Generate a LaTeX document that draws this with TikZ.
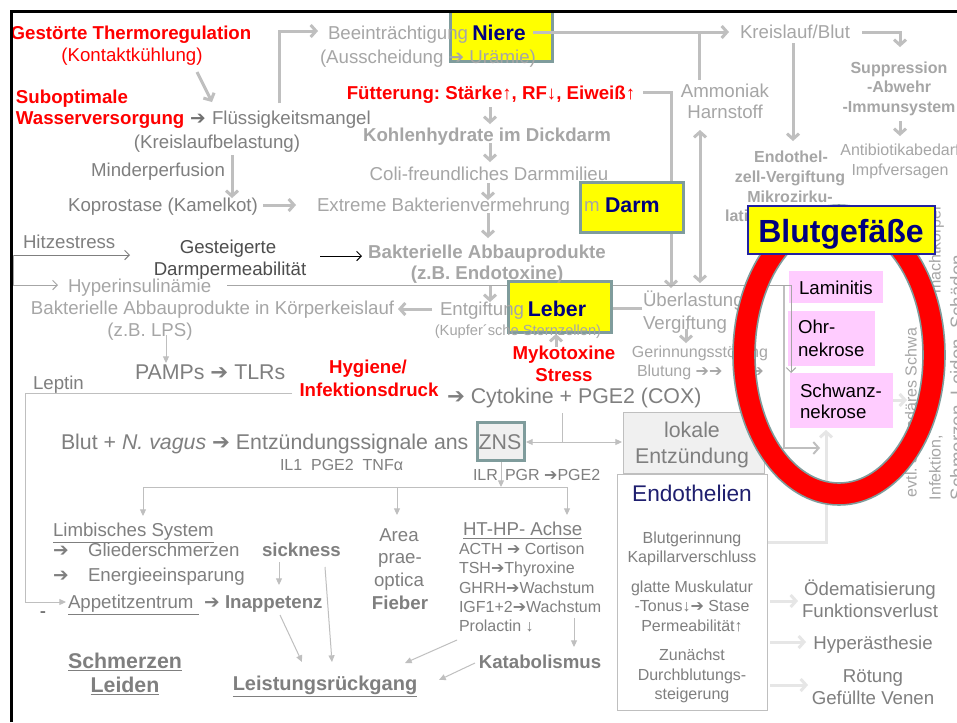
\documentclass[tikz,border=0pt]{standalone}
\usepackage{fontspec}
\setmainfont{Liberation Sans}
\newfontfamily\symfont{DejaVu Sans}
\usetikzlibrary{arrows.meta}
\newcommand{\thickarr}{{\symfont ➔}}
\definecolor{lgt}{HTML}{A6A6A6}
\definecolor{mgt}{HTML}{7F7F7F}
\definecolor{dgt}{HTML}{4D4D4D}
\definecolor{lnc}{HTML}{BFBFBF}
\definecolor{vlc}{HTML}{E6E6E6}
\definecolor{navyc}{HTML}{00007F}
\definecolor{endoc}{HTML}{1F1F6F}
\definecolor{boxb}{HTML}{7F9C9C}
\definecolor{pinkc}{HTML}{FFCCFF}
\definecolor{redc}{HTML}{FF0000}
\definecolor{yelc}{HTML}{FFFF00}
\definecolor{lokf}{HTML}{F0F0F0}
\definecolor{bgb}{HTML}{2222A0}
\frenchspacing
\begin{document}
\begin{tikzpicture}[x=0.75pt,y=-0.75pt,
  every node/.style={inner sep=0pt,outer sep=0pt},
  f11/.style={text height=10.1pt,text depth=2.2pt,font=\fontsize{11}{13}\selectfont},
  f12/.style={text height=11pt,text depth=2.4pt,font=\fontsize{12}{14}\selectfont},
  f12b/.style={text height=11pt,text depth=2.4pt,font=\fontsize{12}{14}\selectfont\bfseries},
  f14/.style={text height=12.9pt,text depth=2.8pt,font=\fontsize{14}{16}\selectfont},
  f14b/.style={text height=12.9pt,text depth=2.8pt,font=\fontsize{14}{16}\selectfont\bfseries},
  f15b/.style={text height=13.8pt,text depth=3pt,font=\fontsize{15}{18}\selectfont\bfseries},
  f16/.style={text height=14.7pt,text depth=3.2pt,font=\fontsize{16}{19}\selectfont},
  f16b/.style={text height=14.7pt,text depth=3.2pt,font=\fontsize{16}{19}\selectfont\bfseries},
  f17/.style={text height=15.6pt,text depth=3.4pt,font=\fontsize{17}{20}\selectfont},
  f24b/.style={text height=22.1pt,text depth=4.8pt,font=\fontsize{24}{28}\selectfont\bfseries},
  lg/.style={text=lgt}, mg/.style={text=mgt}, dg/.style={text=dgt},
  rd/.style={text=redc}, nv/.style={text=navyc},
  thkl/.style={draw=lnc,line width=2.25pt},
  thk/.style={thkl,-{Straight Barb[length=4pt,width=9pt]}},
  thkd/.style={thkl,{Straight Barb[length=4pt,width=9pt]}-{Straight Barb[length=4pt,width=9pt]}},
  vl/.style={draw=vlc,line width=2.25pt,-{Straight Barb[length=4pt,width=9pt]}},
  thnl/.style={draw=lnc,line width=0.75pt},
  thn/.style={thnl,-{Triangle[length=5pt,width=4.5pt]}},
  thnd/.style={thnl,{Triangle[length=5pt,width=4.5pt]}-{Triangle[length=5pt,width=4.5pt]}},
  opn/.style={line width=0.75pt,-{Straight Barb[length=3.5pt,width=7pt]}},
  ybox/.style={fill=yelc,draw=boxb,line width=2.25pt},
  pbox/.style={fill=pinkc,draw=none}
]
\useasboundingbox (0,0) rectangle (957,722);
\fill[white] (0,0) rectangle (957,722);

% ---------- pink boxes (inside ring)
\fill[pbox] (789,271) rectangle (883,303);
\fill[pbox] (788,311) rectangle (875,366);
\fill[pbox] (790,373) rectangle (893,428);

% ---------- thick gray connectors
\coordinate (kkA) at (197,72); \coordinate (kkB) at (212,102);
\draw[thk] (kkA) -- (kkB);
\coordinate (flA) at (279,103); \coordinate (flB) at (279,31); \coordinate (flC) at (318,31);
\draw[thk] (flA) -- (flB) -- (flC);
\coordinate (mpA) at (232,155); \coordinate (mpB) at (232,198);
\draw[thk] (mpA) -- (mpB);
\coordinate (kpA) at (263,205); \coordinate (kpB) at (296,205);
\draw[thk] (kpA) -- (kpB);
\coordinate (c1a) at (490,107); \coordinate (c1b) at (490,124);
\coordinate (c2a) at (490,143); \coordinate (c2b) at (490,162);
\coordinate (c3a) at (488,183); \coordinate (c3b) at (488,200);
\coordinate (c4a) at (488,213); \coordinate (c4b) at (488,238);
\coordinate (c5a) at (490,285); \coordinate (c5b) at (490,302);
\draw[thk] (c1a) -- (c1b);
\draw[thk] (c2a) -- (c2b);
\draw[thk] (c3a) -- (c3b);
\draw[thk] (c4a) -- (c4b);
\draw[thk] (c5a) -- (c5b);
\coordinate (amA) at (699,80); \coordinate (amB) at (699,32);
\draw[thkl] (amA) -- (amB);
\coordinate (krA) at (862,32); \coordinate (krB) at (900,32); \coordinate (krC) at (900,47);
\draw[thk] (krA) -- (krB) -- (krC);
\coordinate (suA) at (900,121); \coordinate (suB) at (900,136);
\draw[thk] (suA) -- (suB);
\coordinate (keA) at (793,43); \coordinate (keB) at (793,141);
\draw[thk] (keA) -- (keB);
\coordinate (fuA) at (643,92); \coordinate (fuB) at (671,92); \coordinate (fuC) at (671,288);
\draw[thk] (fuA) -- (fuB) -- (fuC);
\coordinate (daA) at (700,130); \coordinate (daB) at (700,283);
\draw[thkd] (daA) -- (daB);
\coordinate (ubA) at (642,308); \coordinate (ubB) at (601,308);
\draw[thk] (ubA) -- (ubB);
\coordinate (egA) at (432,309); \coordinate (egB) at (398,309);
\draw[thk] (egA) -- (egB);
\coordinate (mkA) at (556,347); \coordinate (mkB) at (556,334);
\draw[thk] (mkA) -- (mkB);
\coordinate (vgA) at (686,329); \coordinate (vgB) at (686,343);
\draw[thk] (vgA) -- (vgB);
\coordinate (x7A) at (784,285); \coordinate (x7B) at (784,448); \coordinate (x7C) at (820,448);
\draw[thk,line width=1.5pt] (x7A) -- (x7B) -- (x7C);

% ---------- thin connectors
\coordinate (hzA) at (13,255); \coordinate (hzB) at (130,255);
\draw[opn,draw=mgt] (hzA) -- (hzB);
\coordinate (hiA) at (13,285); \coordinate (hiB) at (58,285);
\draw[opn,draw=lgt] (hzA) -- (hiA) -- (hiB);
\coordinate (hlA) at (227,285); \coordinate (hlB) at (791,285); \coordinate (hlC) at (791,373);
\draw[opn,draw=lgt] (hlA) -- (hlB) -- (hlC);
\coordinate (gdA) at (320,256); \coordinate (gdB) at (362,256);
\draw[opn,draw=black] (gdA) -- (gdB);
\coordinate (lpA) at (166,335); \coordinate (lpB) at (166,363);
\draw[thn] (lpA) -- (lpB);
\coordinate (ltA) at (292,393); \coordinate (ltB) at (25,393); \coordinate (ltC) at (25,602); \coordinate (ltD) at (66,602);
\draw[thn] (ltA) -- (ltB) -- (ltC) -- (ltD);
\coordinate (cyA) at (562,413); \coordinate (cyB) at (562,442);
\draw[thnl] (cyA) -- (cyB);
\coordinate (znA) at (526,442); \coordinate (znB) at (622,442);
\draw[thnd] (znA) -- (znB);
\coordinate (zdA) at (501,461); \coordinate (zdB) at (501,487);
\draw[thn] (zdA) -- (zdB);
\coordinate (dL) at (143,487); \coordinate (dM) at (397,487); \coordinate (dR) at (567,487);
\coordinate (dLb) at (143,516); \coordinate (dMb) at (397,515); \coordinate (dRb) at (567,515);
\draw[thnl] (dL) -- (dR);
\draw[thn] (dL) -- (dLb);
\draw[thn] (dM) -- (dMb);
\draw[thn] (dR) -- (dRb);
\coordinate (skA) at (279,562); \coordinate (skB) at (279,585);
\draw[thn] (skA) -- (skB);
\coordinate (slA) at (325,567); \coordinate (slB) at (332,662);
\draw[thn] (slA) -- (slB);
\coordinate (ilA) at (280,615); \coordinate (ilB) at (302,662);
\draw[thn] (ilA) -- (ilB);
\coordinate (prA) at (457,640); \coordinate (prB) at (405,663);
\draw[thn] (prA) -- (prB);
\coordinate (kaA) at (475,663); \coordinate (kaB) at (439,680);
\draw[thn] (kaA) -- (kaB);
\coordinate (igA) at (574,618); \coordinate (igB) at (574,647);
\draw[thn] (igA) -- (igB);

% ---------- very light connectors (Endothelien)
\coordinate (enA) at (767,542); \coordinate (enB) at (826,542); \coordinate (enC) at (826,430);
\draw[vl] (enA) -- (enB) -- (enC);
\coordinate (swA) at (893,400); \coordinate (swB) at (907,400);
\draw[vl] (swA) -- (swB);
\coordinate (o1A) at (770,601); \coordinate (o1B) at (798,601);
\coordinate (o2A) at (770,642); \coordinate (o2B) at (806,642);
\coordinate (o3A) at (770,685); \coordinate (o3B) at (808,685);
\draw[vl] (o1A) -- (o1B);
\draw[vl] (o2A) -- (o2B);
\draw[vl] (o3A) -- (o3B);

% ---------- yellow organ boxes
\draw[ybox] (450,11) rectangle (552,61);
\draw[ybox] (580,182) rectangle (683,232);
\draw[ybox] (508,281) rectangle (611,332);

% ---------- other boxes
\draw[fill=lokf,draw=boxb,line width=2.25pt] (477,422) rectangle (524,460);
\draw[fill=lokf,draw=lnc,line width=0.75pt] (623,412) rectangle (764,473);
\draw[fill=white,draw=lnc,line width=0.75pt] (617,474) rectangle (767,710);

% ---------- red texts
\node[f14b,rd] (gt) at (131,33) {Gestörte Thermoregulation};
\node[f14,rd] (kk) at (132,55) {(Kontaktkühlung)};
\node[f14b,rd,anchor=west] (sub) at (16,97) {Suboptimale};
\node[f14b,rd,anchor=west] (wv) at (16,118) {Wasserversorgung};
\node[f14b,rd] (fu) at (491,93) {Fütterung: Stärke↑, RF↓, Eiweiß↑};
\node[f14b,rd] (hy1) at (368,367) {Hygiene/};
\node[f14b,rd] (hy2) at (369,390) {Infektionsdruck};
\node[f14b,rd] (my1) at (564,353) {Mykotoxine};
\node[f14b,rd] (my2) at (564,375) {Stress};

% ---------- gray texts, left / top
\node[f14,text=dgt!80,anchor=west] (wva) at (190,118) {\thickarr};
\node[f14,mg,anchor=west] (fl) at (212,118) {Flüssigkeitsmangel};
\node[f14,mg] (kb) at (217,142) {(Kreislaufbelastung)};
\node[f14,mg] (mp) at (158,170) {Minderperfusion};
\node[f14,mg] (kp) at (163,205) {Koprostase (Kamelkot)};
\node[f14,lg,anchor=west] (eb) at (317,205) {Extreme Bakterienvermehrung};
\node[f14,lg,anchor=west] (ebm) at (584,205) {m};
\node[f14,lg,anchor=west] (be) at (328,33) {Beeinträchtigung};
\node[f14,lg,anchor=west] (au) at (320,57) {(Ausscheidung \thickarr{} Urämie)};
\node[f14b,lg] (kh) at (487,135) {Kohlenhydrate im Dickdarm};
\node[f14,lg] (co) at (489,174) {Coli-freundliches Darmmilieu};
\node[f14b,lg] (ba) at (487,252) {Bakterielle Abbauprodukte};
\node[f14b,lg] (bz) at (487,273) {(z.B. Endotoxine)};
\node[f14,mg,anchor=west] (hs) at (23,242) {Hitzestress};
\node[f14,dg] (gd1) at (228,247) {Gesteigerte};
\node[f14,dg] (gd2) at (230,269) {Darmpermeabilität};
\node[f14,lg,anchor=west] (hi) at (68,286) {Hyperinsulinämie};
\node[f14,lg,anchor=west] (bk) at (31,308) {Bakterielle Abbauprodukte in Körperkeislauf};
\node[f14,lg] (lps) at (150,330) {(z.B. LPS)};
\node[f14,lg,anchor=west] (en) at (440,309) {Entgiftung};
\node[f11,lg] (ks) at (518,330) {(Kupfer´sche Sternzellen)};
\node[f16,mg,anchor=west] (pa) at (135,372) {PAMPs \thickarr{} TLRs};
\node[f14,mg,anchor=west] (lp) at (33,383) {Leptin};
\node[f16,mg,anchor=west] (cy) at (447,396) {\thickarr{} Cytokine + PGE2 (COX)};
\node[f16,mg,anchor=west] (bl) at (61,442) {Blut + \textit{N. vagus} \thickarr{} Entzündungssignale ans};
\node[f16,mg] (zns) at (500,442) {ZNS};
\node[f12,mg,anchor=west] (il) at (280,465) {IL1\ \ PGE2\ \ TNFα};
\node[f12,mg,anchor=west] (ilr) at (473,475) {ILR};
\node[f12,mg,anchor=west] (pgr) at (505,475) {PGR \thickarr PGE2};

% ---------- box labels
\node[f16b,nv] (ni) at (499,33) {Niere};
\node[f16b,nv,anchor=west] (da) at (605,205) {Darm};
\node[f16b,nv] (le) at (557,309) {Leber};
\coordinate (niA) at (533,32); \coordinate (niB) at (729,32);
\draw[thk] (niA) -- (niB);

% ---------- right upper texts
\node[f14,lg,anchor=west] (kr) at (740,32) {Kreislauf/Blut};
\node[f14,lg] (am1) at (725,91) {Ammoniak};
\node[f14,lg] (am2) at (725,112) {Harnstoff};
\node[f12b,lg] (su1) at (899,68) {Suppression};
\node[f12b,lg] (su2) at (899,87) {-Abwehr};
\node[f12b,lg] (su3) at (899,107) {-Immunsystem};
\node[f12,lg] (ab1) at (900,150) {Antibiotikabedarf};
\node[f12,lg] (ab2) at (900,170) {Impfversagen};
\node[f12b,lg] (ez1) at (791,157) {Endothel-};
\node[f12b,lg] (ez2) at (790,177) {zell-Vergiftung};
\node[f12b,lg] (ez3) at (790,197) {Mikrozirku-};
\node[f12b,lg] (ez4) at (790,216) {lationsstörungen};
\node[f14,lg,anchor=west] (ub) at (643,300) {Überlastung};
\node[f14,lg,anchor=west] (ve) at (643,323) {Vergiftung};
\node[f12,lg] (gs) at (700,352) {Gerinnungsstörung};
\node[f12,lg,anchor=west] (bt) at (637,371) {Blutung \thickarr\thickarr};
\node[f12,lg] (bt3) at (757,371) {\thickarr};

% ---------- vertical texts at right edge
\node[f12,lg,rotate=90,anchor=west] (v1) at (911,497) {evtl. sekundäres Schwa};
\node[f12,lg,rotate=90,anchor=west] (v2a) at (935,500) {Infektion,};
\node[f12,lg,rotate=90,anchor=east] (v2b) at (935,205) {machtkörper};
\node[f14,lg,rotate=90,anchor=west] (v3) at (957,500) {Schmerzen, Leiden, Schäden};

% ---------- lokale Entzündung / Endothelien
\node[f16,mg] (lok1) at (692,430) {lokale};
\node[f16,mg] (lok2) at (692,456) {Entzündung};
\node[f17,text=endoc] (endo) at (692,493) {Endothelien};
\node[f12,mg] (e1) at (692,538) {Blutgerinnung};
\node[f12,mg] (e2) at (692,557) {Kapillarverschluss};
\node[f12,mg] (e3) at (692,587) {glatte Muskulatur};
\node[f12,mg] (e4) at (692,606) {-Tonus↓\thickarr{} Stase};
\node[f12,mg] (e5) at (692,626) {Permeabilität↑};
\node[f12,mg] (e6) at (692,655) {Zunächst};
\node[f12,mg] (e7) at (692,675) {Durchblutungs-};
\node[f12,mg] (e8) at (692,694) {steigerung};
\node[f14,mg] (r1) at (870,589) {Ödematisierung};
\node[f14,mg] (r2) at (870,611) {Funktionsverlust};
\node[f14,mg] (r3) at (873,643) {Hyperästhesie};
\node[f14,mg] (r4) at (873,676) {Rötung};
\node[f14,mg] (r5) at (873,698) {Gefüllte Venen};

% ---------- bottom left
\node[f14,mg,anchor=west] (lim) at (53,530) {\underline{Limbisches System}};
\node[f14,mg,anchor=west] (gla) at (53,550) {\thickarr};
\node[f14,mg,anchor=west] (gl) at (88,550) {Gliederschmerzen};
\node[f14,mg,anchor=west] (ena) at (53,575) {\thickarr};
\node[f14,mg,anchor=west] (ene) at (88,575) {Energieeinsparung};
\node[f14b,mg,anchor=west] (sick) at (262,550) {sickness};
\node[f14,mg,anchor=west] (app) at (68,602) {\underline{Appetitzentrum\ }};
\node[f14,mg,anchor=west] (appa) at (204,602) {\thickarr};
\node[f14b,mg,anchor=west] (inap) at (225,602) {Inappetenz};
\node[f14,dg] (dash) at (43,611) {-};
\node[f16b,mg] (sch1) at (125,661) {\underline{Schmerzen}};
\node[f16b,mg] (sch2) at (125,685) {\underline{Leiden}};
\node[f15b,mg] (lei) at (325,683) {\underline{Leistungsrückgang}};
\node[f14,mg] (ar1) at (399,535) {Area};
\node[f14,mg] (ar2) at (400,557) {prae-};
\node[f14,mg] (ar3) at (399,580) {optica};
\node[f14b,mg] (ar4) at (400,603) {Fieber};
\node[f14,mg,anchor=west] (ht) at (463,529) {\underline{HT-HP- Achse}};
\node[f12,mg,anchor=west] (h1) at (459,549) {ACTH \thickarr{} Cortison};
\node[f12,mg,anchor=west] (h2) at (459,568) {TSH\thickarr Thyroxine};
\node[f12,mg,anchor=west] (h3) at (459,588) {GHRH\thickarr Wachstum};
\node[f12,mg,anchor=west] (h4) at (459,607) {IGF1+2\thickarr Wachstum};
\node[f12,mg,anchor=west] (h5) at (459,626) {Prolactin ↓};
\node[f14b,mg] (kat) at (540,662) {Katabolismus};

% ---------- red ring
\filldraw[fill=redc,draw=boxb,line width=1.2pt,even odd rule]
  (839,355) ellipse [x radius=106, y radius=150]
  (839,355) ellipse [x radius=84, y radius=128];

% ---------- pink box texts
\node[f14,anchor=west] (lam) at (799,288) {Laminitis};
\node[f14,anchor=west] (oh1) at (798,327) {Ohr-};
\node[f14,anchor=west] (oh2) at (798,350) {nekrose};
\node[f14,anchor=west] (sw1) at (800,391) {Schwanz-};
\node[f14,anchor=west] (sw2) at (800,412) {nekrose};

% ---------- Blutgefaesse box
\draw[fill=yelc,draw=bgb,line width=1.1pt] (748,206) rectangle (935,254);
\node[f24b,nv] (bg) at (841,231) {Blutgefäße};

% ---------- slide frame
\draw[line width=2.25pt] (11.5,722) -- (11.5,11.5) -- (957,11.5);
\end{tikzpicture}
\end{document}
